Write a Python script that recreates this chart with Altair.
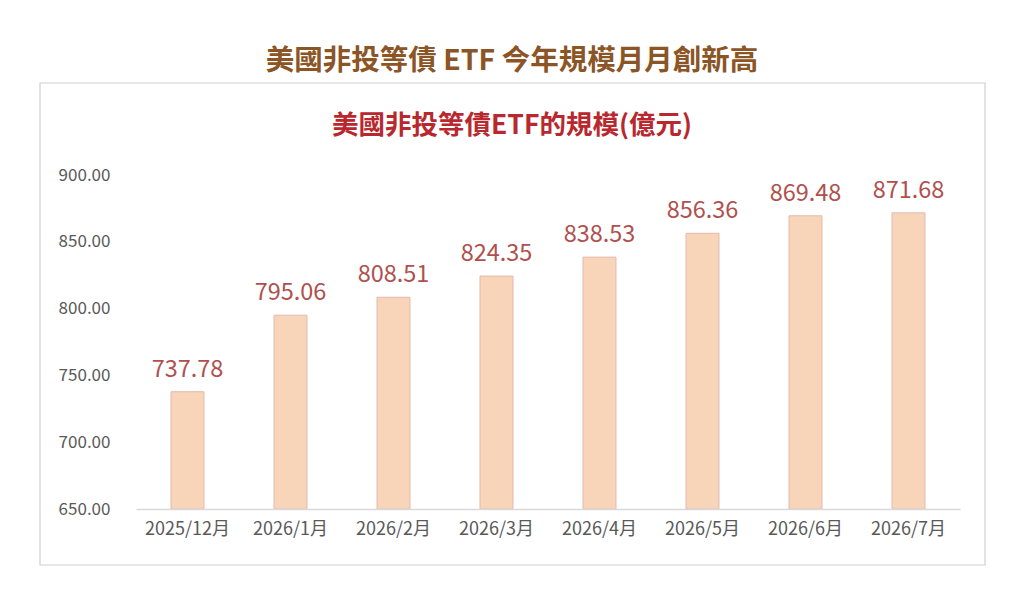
import altair as alt
import pandas as pd

months = ["2025/12月", "2026/1月", "2026/2月", "2026/3月", "2026/4月", "2026/5月", "2026/6月", "2026/7月"]
values = [737.78, 795.06, 808.51, 824.35, 838.53, 856.36, 869.48, 871.68]

df = pd.DataFrame({"month": months, "value": values})
df["label"] = [f"{v:.2f}" for v in values]

FONT = "Noto Sans CJK TC"
W, H = 824, 334

base = alt.Chart(df)

box = base.mark_rect(fillOpacity=0, stroke="#D0D0D0", strokeWidth=1.2, clip=False).encode(
    x=alt.value(-96), x2=alt.value(849), y=alt.value(-92), y2=alt.value(390)
).transform_filter("datum.month == '2025/12月'")

bars = base.mark_bar(color="#F8D5B9", stroke="#E3B9AF", strokeWidth=1).encode(
    x=alt.X("month:N", sort=months, title=None,
            scale=alt.Scale(paddingInner=0.68, paddingOuter=0.34),
            axis=alt.Axis(labelAngle=0, ticks=False, domainColor="#D9D9D9", domainWidth=1.5,
                          labelFontSize=18, labelColor="#595959", labelPadding=11, labelFont=FONT, zindex=1)),
    y=alt.Y("value:Q", title=None,
            scale=alt.Scale(domain=[650, 900], nice=False, zero=False),
            axis=alt.Axis(values=[650, 700, 750, 800, 850, 900], format=".2f", grid=False, domain=False,
                          ticks=False, labelFontSize=17, labelColor="#595959", labelPadding=26, labelFont=FONT, zindex=1)),
    y2=alt.datum(650),
)

text = base.mark_text(baseline="bottom", dy=-10, fontSize=23.5, color="#B0504E", font=FONT).encode(
    x=alt.X("month:N", sort=months),
    y="value:Q",
    text="label:N",
)

chart = alt.layer(box, bars, text).properties(
    width=W, height=H,
    background="white",
    autosize=alt.AutoSizeParams(type="none"),
    padding={"left": 128, "top": 167, "right": 56, "bottom": 86},
    title=alt.TitleParams(
        text="美國非投等債 ETF 今年規模月月創新高",
        subtitle="美國非投等債ETF的規模(億元)",
        anchor="middle", dx=-36, offset=-57,
        font=FONT, fontSize=28.5, fontWeight="bold", color="#8B5526",
        subtitleFont=FONT, subtitleFontSize=26.5, subtitleFontWeight="bold", subtitleColor="#B8282E",
        subtitlePadding=37,
    ),
).configure_view(strokeWidth=0, stroke="transparent")

chart.save("out.html", embed_options={"renderer": "svg", "actions": False})
